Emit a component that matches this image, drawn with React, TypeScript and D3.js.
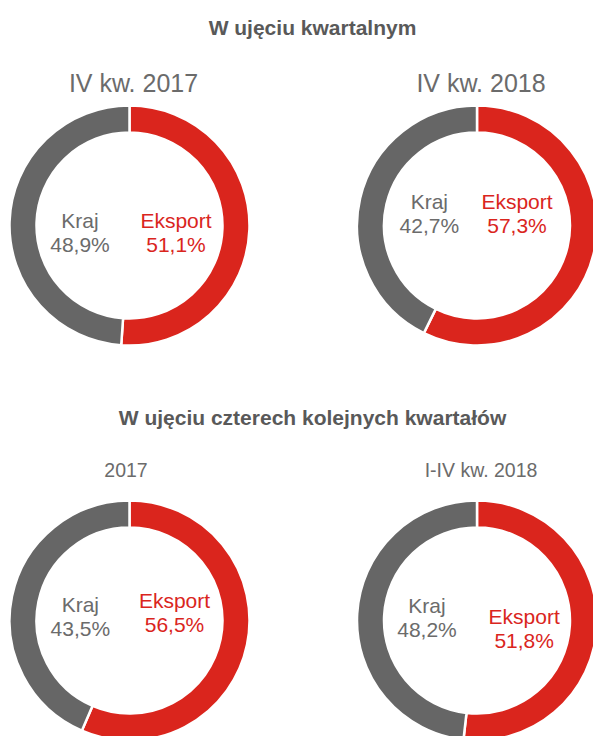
import React from "react";
import * as d3 from "d3";

// ---- data ----
const categories = ["Eksport", "Kraj"];
const panelTitles = ["IV kw. 2017", "IV kw. 2018", "2017", "I-IV kw. 2018"];
const eksportValues = [51.1, 57.3, 56.5, 51.8];
const krajValues = [48.9, 42.7, 43.5, 48.2];
const sectionTitles = ["W ujęciu kwartalnym", "W ujęciu czterech kolejnych kwartałów"];

// ---- layout ----
const W = 593;
const H = 736;
const centers: [number, number][] = [
  [129.5, 225.5],
  [477, 225.5],
  [129.5, 620.5],
  [477, 620.5],
];
const titleLayout = [
  { x: 133.5, y: 91.7, size: 25 },
  { x: 481, y: 91.7, size: 25 },
  { x: 126, y: 476.7, size: 19.5 },
  { x: 481, y: 476.7, size: 19.5 },
];
const sectionLayout = [
  { x: 312.5, y: 35 },
  { x: 312.5, y: 425 },
];
// label offsets (first-line baseline) relative to donut centre: [eksport, kraj]
const labelOffsets: [number, number][][] = [
  [[46.5, 2.8], [-49.5, 2.8]],
  [[40, -16.5], [-47.7, -16.5]],
  [[45, -12.8], [-49.2, -8.2]],
  [[47.2, 3.8], [-50, -8]],
];
const colors = ["#DA251D", "#666666"];
const textColors = ["#DA251D", "#6b6b6b"];
const outerR = 120;
const innerR = 93;
const font = "'Liberation Sans', Arial, sans-serif";

const fmt = (v: number) => v.toFixed(1).replace(".", ",") + "%";

export default function App() {
  const pie = d3
    .pie<number>()
    .sort(null)
    .value((d) => d);
  const arc = d3.arc<d3.PieArcDatum<number>>().innerRadius(innerR).outerRadius(outerR);

  return (
    <svg
      width={W}
      height={H}
      style={{ position: "absolute", left: 0, top: 0, overflow: "hidden", background: "#fff" }}
      fontFamily={font}
    >
      <rect width={W} height={H} fill="#fff" />
      {sectionTitles.map((t, i) => (
        <text
          key={t}
          x={sectionLayout[i].x}
          y={sectionLayout[i].y}
          textAnchor="middle"
          fontSize={21}
          fontWeight="bold"
          fill="#595959"
        >
          {t}
        </text>
      ))}
      {panelTitles.map((t, i) => {
        const vals = [eksportValues[i], krajValues[i]];
        const arcs = pie(vals);
        const [cx, cy] = centers[i];
        return (
          <g key={t}>
            <text
              x={titleLayout[i].x}
              y={titleLayout[i].y}
              textAnchor="middle"
              fontSize={titleLayout[i].size}
              fill="#6b6b6b"
            >
              {t}
            </text>
            <g transform={`translate(${cx},${cy})`}>
              {arcs.map((a, j) => (
                <path key={j} d={arc(a) || ""} fill={colors[j]} stroke="#fff" strokeWidth={2.5} />
              ))}
              {categories.map((c, j) => {
                const [dx, dy] = labelOffsets[i][j];
                return (
                  <text key={c} textAnchor="middle" fontSize={21} fill={textColors[j]}>
                    <tspan x={dx} y={dy}>
                      {c}
                    </tspan>
                    <tspan x={dx} y={dy + 24}>
                      {fmt(vals[j])}
                    </tspan>
                  </text>
                );
              })}
            </g>
          </g>
        );
      })}
    </svg>
  );
}
